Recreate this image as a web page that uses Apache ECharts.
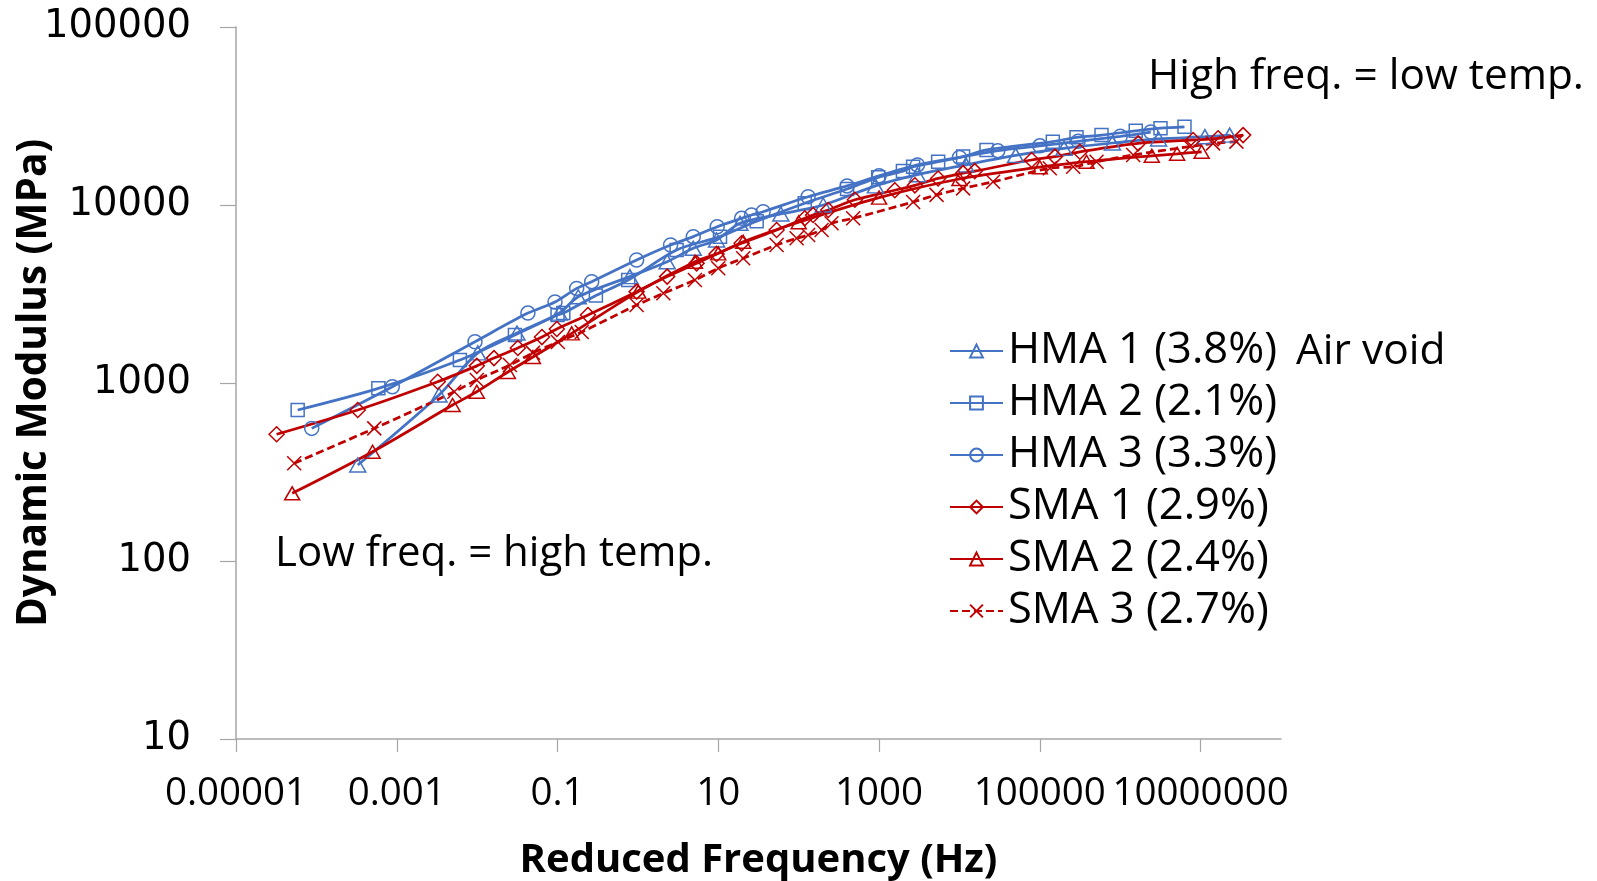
<!DOCTYPE html>
<html>
<head>
<meta charset="utf-8">
<script src="https://cdn.jsdelivr.net/npm/echarts@6/dist/echarts.min.js"></script>
<style>
html,body{margin:0;padding:0;background:#fff;}
#chart{width:1597px;height:881px;}
</style>
</head>
<body>
<div id="chart"></div>
<script>
// ---- Data (reduced frequency in Hz, dynamic modulus in MPa) ----
const seriesNames = ['HMA 1 (3.8%)','HMA 2 (2.1%)','HMA 3 (3.3%)','SMA 1 (2.9%)','SMA 2 (2.4%)','SMA 3 (2.7%)'];

const hma1F = [3.27e-4, 3.35e-3, 0.0102, 0.0313, 0.105, 0.181, 0.794, 2.31, 4.88, 9.52, 18.6, 60, 202, 900, 3000, 12000, 50000, 2e5, 8e5, 3e6, 1.13e7, 2.3e7];
const hma1E = [346, 857, 1476, 1910, 2470, 3050, 3960, 4800, 5710, 6360, 7890, 8900, 10000, 12800, 14800, 16800, 19000, 20800, 22300, 23500, 24200, 24700];

const hma2F = [5.85e-5, 5.9e-4, 6.1e-3, 0.0295, 0.1, 0.118, 0.3, 0.757, 3.03, 10.5, 30, 119, 400, 975, 1980, 2650, 5430, 11100, 21700, 1.45e5, 2.86e5, 5.85e5, 1.56e6, 3.17e6, 6.3e6];
const hma2E = [705, 933, 1346, 1862, 2410, 2470, 3100, 3790, 5590, 6640, 8100, 10230, 12300, 14300, 15500, 16400, 17500, 18700, 20400, 22700, 24000, 24700, 26100, 27000, 27500];

const hma3F = [8.75e-5, 8.8e-4, 9.4e-3, 0.0428, 0.093, 0.173, 0.266, 0.964, 2.55, 4.88, 9.69, 19.5, 25.9, 36.1, 131, 400, 1000, 3000, 10000, 30000, 1e5, 3e5, 1e6, 2.4e6];
const hma3E = [556, 953, 1706, 2470, 2850, 3400, 3710, 4910, 5960, 6640, 7550, 8420, 8790, 9170, 11130, 12800, 14600, 16800, 18500, 20200, 21500, 22800, 24300, 25700];

const sma1F = [3.2e-5, 3.27e-4, 3.23e-3, 9.9e-3, 0.0162, 0.0321, 0.064, 0.098, 0.239, 0.964, 2.31, 5.37, 9.52, 19.5, 53.1, 119, 151, 233, 500, 1570, 2790, 5430, 11100, 15500, 78900, 1.54e5, 3.15e5, 1.67e6, 8.07e6, 1.65e7, 3.38e7];
const sma1E = [515, 705, 1016, 1248, 1380, 1573, 1811, 2010, 2410, 3260, 3960, 4700, 5310, 6090, 7240, 8420, 8790, 9370, 10700, 12100, 12900, 14100, 15100, 15500, 17900, 18700, 19900, 22200, 23200, 23700, 24700];

const sma2F = [5.0e-5, 5.0e-4, 4.95e-3, 9.9e-3, 0.0241, 0.0494, 0.15, 1.01, 5.12, 9.98, 20.4, 100, 1000, 10000, 1e5, 3.81e5, 2.47e6, 5.1e6, 1.03e7];
const sma2E = [240, 411, 752, 893, 1153, 1400, 1900, 3260, 4800, 5350, 6220, 8000, 11000, 14000, 16300, 17500, 18900, 19400, 19900];

const sma3F = [5.3e-5, 5.25e-4, 5.2e-3, 9.9e-3, 0.0256, 0.0494, 0.101, 0.2, 0.964, 2.07, 5.12, 9.98, 20.4, 53.1, 94.2, 131, 193, 256, 476, 2650, 5190, 11100, 26200, 1.33e5, 2.6e5, 5.07e5, 1.45e6, 7.35e6, 1.43e7, 2.79e7];
const sma3E = [354, 556, 893, 1040, 1262, 1476, 1698, 1936, 2740, 3190, 3790, 4410, 5020, 5960, 6500, 6780, 7240, 7890, 8420, 10400, 11400, 12400, 13500, 16100, 16400, 17500, 19100, 21300, 22200, 22700];

const xTickValues = [1e-5, 1e-3, 0.1, 10, 1000, 1e5, 1e7];
const yTickValues = [10, 100, 1000, 10000, 100000];

// ---- Build ----
const BLUE = '#4472C4', RED = '#C00000';
const CROSS = 'path://M0,0L10,10M10,0L0,10';
const specs = [
  {f: hma1F, e: hma1E, color: BLUE, symbol: 'triangle', size: [16, 14], dash: 'solid'},
  {f: hma2F, e: hma2E, color: BLUE, symbol: 'rect', size: 13, dash: 'solid'},
  {f: hma3F, e: hma3E, color: BLUE, symbol: 'circle', size: 14, dash: 'solid'},
  {f: sma1F, e: sma1E, color: RED, symbol: 'diamond', size: 15, dash: 'solid'},
  {f: sma2F, e: sma2E, color: RED, symbol: 'triangle', size: [15, 13], dash: 'solid'},
  {f: sma3F, e: sma3E, color: RED, symbol: CROSS, size: 14, dash: [8, 4]}
];

function pow10Label(v) {
  const e = Math.round(Math.log10(v));
  return e < 0 ? Math.pow(10, e).toFixed(-e) : String(Math.round(Math.pow(10, e)));
}

const series = specs.map((s, i) => ({
  name: seriesNames[i],
  type: 'line',
  data: s.f.map((f, j) => [f, s.e[j]]),
  smooth: 0.3,
  symbol: s.symbol,
  symbolSize: s.size,
  showAllSymbol: true,
  lineStyle: {color: s.color, width: 2.75, type: s.dash},
  itemStyle: {color: 'rgba(255,255,255,0)', borderColor: s.color, borderWidth: 1.5},
  emphasis: {disabled: true},
  z: 2
}));

const chart = echarts.init(document.getElementById('chart'), null, {renderer: 'canvas'});
chart.setOption({
  animation: false,
  backgroundColor: '#fff',
  grid: {left: 236, right: 316, top: 27, bottom: 142, containLabel: false, outerBoundsMode: 'none'},
  xAxis: {
    type: 'log', logBase: 10, min: 1e-5, max: 1e8,
    axisLine: {show: true, lineStyle: {color: '#A6A6A6', width: 1.5}},
    axisTick: {show: true, inside: false, length: 13, customValues: xTickValues, lineStyle: {color: '#A6A6A6', width: 1.2}},
    axisLabel: {customValues: xTickValues, formatter: pow10Label, margin: 36, fontFamily: 'Open Sans', fontSize: 38.5, color: '#000'},
    splitLine: {show: false},
    minorTick: {show: false},
    name: 'Reduced Frequency (Hz)', nameLocation: 'middle', nameGap: 102,
    nameTextStyle: {fontFamily: 'Open Sans', fontWeight: 'bold', fontSize: 40, color: '#000'}
  },
  yAxis: {
    type: 'log', logBase: 10, min: 10, max: 100000,
    axisLine: {show: true, lineStyle: {color: '#A6A6A6', width: 1.5}},
    axisTick: {show: true, inside: false, length: 16, customValues: yTickValues, lineStyle: {color: '#A6A6A6', width: 1.2}},
    axisLabel: {customValues: yTickValues, formatter: pow10Label, margin: 45, fontFamily: 'DejaVu Sans', fontSize: 38.5, color: '#000'},
    splitLine: {show: false}
  },
  legend: {
    show: true, orient: 'vertical', left: 944, top: 324,
    itemWidth: 53, itemHeight: 16, itemGap: 8,
    data: seriesNames,
    textStyle: {fontFamily: 'Open Sans', fontSize: 43.5, lineHeight: 44, color: '#000'},
    selectedMode: false
  },
  graphic: [
    {type: 'text', x: 34, y: 383, rotation: Math.PI / 2,
     style: {text: 'Dynamic Modulus (MPa)', font: 'bold 40.5px "Open Sans"', fill: '#000', align: 'center', verticalAlign: 'middle'}},
    {type: 'text', left: 1296, top: 330, style: {text: 'Air void', font: '42.5px "Open Sans"', fill: '#000'}},
    {type: 'text', left: 1148, top: 56, style: {text: 'High freq. = low temp.', font: '42.4px "Open Sans"', fill: '#000'}},
    {type: 'text', left: 275, top: 533, style: {text: 'Low freq. = high temp.', font: '42px "Open Sans"', fill: '#000'}}
  ],
  series: series
});
</script>
</body>
</html>
